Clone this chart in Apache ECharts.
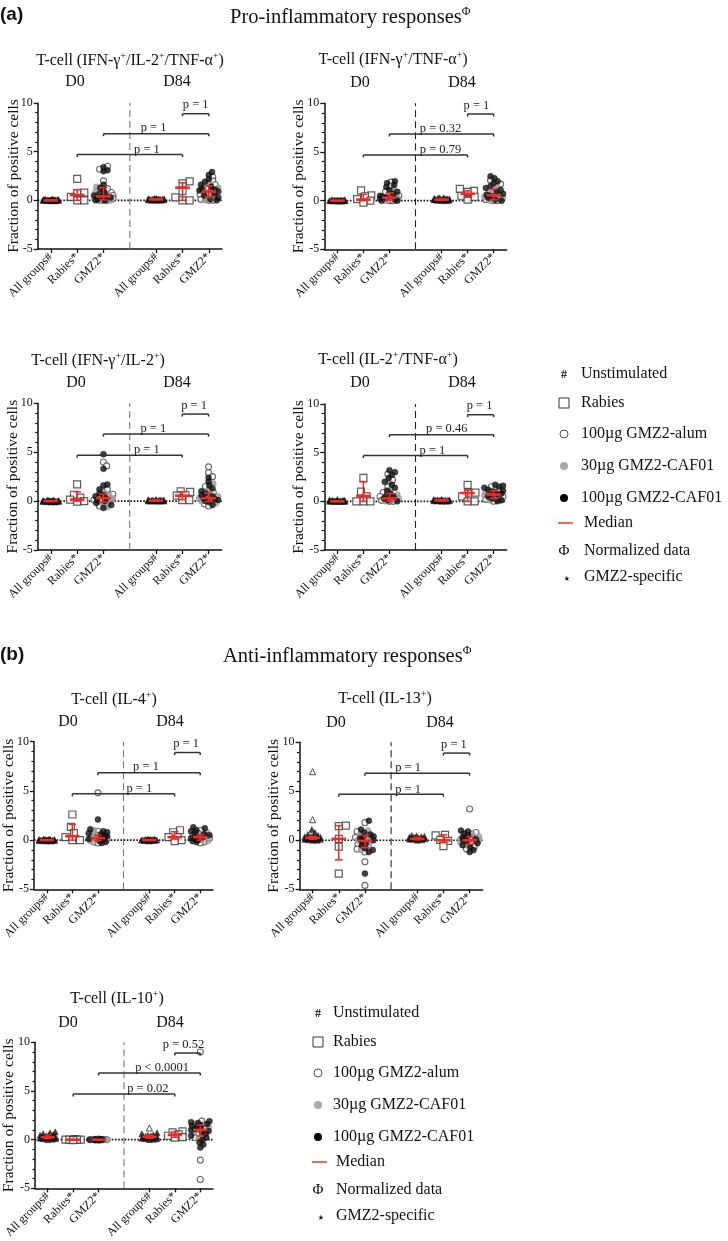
<!DOCTYPE html>
<html>
<head>
<meta charset="utf-8">
<script src="https://cdn.jsdelivr.net/npm/echarts@6/dist/echarts.min.js"></script>
<style>html,body{margin:0;padding:0;background:#fff}#c{width:728px;height:1241px}</style>
</head>
<body>
<div id="c"></div>
<script>
// ---------- tick labels / categories ----------
const xCategories = ['All groups#', 'Rabies*', 'GMZ2*', 'All groups#', 'Rabies*', 'GMZ2*'];
const xPositions = [1, 2, 3, 5, 6, 7];
const panelTitles = [
  'T-cell (IFN-γ^+/IL-2^+/TNF-α^+)', 'T-cell (IFN-γ^+/TNF-α^+)',
  'T-cell (IFN-γ^+/IL-2^+)', 'T-cell (IL-2^+/TNF-α^+)',
  'T-cell (IL-4^+)', 'T-cell (IL-13^+)', 'T-cell (IL-10^+)'
];
const legendLabels = ['Unstimulated', 'Rabies', '100µg GMZ2-alum', '30µg GMZ2-CAF01', '100µg GMZ2-CAF01', 'Median', 'Normalized data', 'GMZ2-specific'];
// significance bars (shared structure): from group, to group, height
const sigFrom = [6, 3, 2];
const sigTo = [7, 7, 6];
const sigY = [8.9, 6.85, 4.7];

// ---------- Panel 1: IFN-g/IL-2/TNF-a ----------
const p1_d0_all = [0, 0, 0, 0.05, -0.05, 0, 0.1, 0, 0, 0.05, 0, -0.05, 0.1, 0, 0, 0.05, 0, 0, 0.1, 0.15, 0, 0.05];
const p1_d0_rab = [2.2, 0.8, 0.75, 0.35, 0, 0];
const p1_d0_alum = [3.5, 3.2, 2.0, 1.2, 0.8, 0.5, 0.3, 0.1, 0, 0, 0, 0.2];
const p1_d0_caf30 = [1.4, 0.9, 0.6, 0.4, 0.2, 0, 0.1, 0.3];
const p1_d0_caf100 = [3.4, 3.1, 3.0, 1.6, 1.3, 1.0, 0.7, 0.5, 0.3, 0.2, 0.1, 0, 0, 0.4, 0.6];
const p1_d84_all = [0.1, 0.05, 0.15, 0.1, 0, 0.2, 0.1, 0.05, 0.1, 0.15, 0, 0.1, 0.2, 0.05, 0.1, 0.1, 0.15, 0];
const p1_d84_rab = [1.95, 1.75, 0.95, 0.3, 0, 0];
const p1_d84_alum = [2.4, 2.0, 1.6, 1.2, 0.9, 0.6, 0.3, 0, 0, 0.1];
const p1_d84_caf30 = [1.8, 1.3, 1.0, 0.8, 0.5, 0.2, 0, 1.5];
const p1_d84_caf100 = [2.9, 2.6, 2.2, 1.9, 1.6, 1.4, 1.2, 1.0, 0.9, 0.7, 0.5, 0.3, 0.1, 0, 1.1];
const p1_med = [0, 0.55, 0.4, 0.1, 1.3, 0.9];
const p1_q1 = [0, 0, 0.05, 0.05, 0, 0.3];
const p1_q3 = [0, 1.1, 1.3, 0.15, 1.8, 1.5];
const p1_p = ['p = 1', 'p = 1', 'p = 1'];

// ---------- Panel 2: IFN-g/TNF-a ----------
const p2_d0_all = [0, 0, 0.05, 0, -0.05, 0, 0.05, 0, 0, 0.1, 0, -0.05, 0, 0.05, 0, 0, 0.05, 0, 0, 0.1];
const p2_d0_rab = [1.05, 0.55, 0.45, 0.15, 0, -0.2];
const p2_d0_alum = [1.9, 1.5, 0.9, 0.5, 0.3, 0.1, 0, 0, 0.2];
const p2_d0_caf30 = [1.2, 0.7, 0.4, 0.2, 0, 0.1, 0.3];
const p2_d0_caf100 = [2.0, 1.8, 1.6, 1.4, 1.1, 0.9, 0.7, 0.5, 0.3, 0.2, 0.1, 0, 0, 0.4];
const p2_d84_all = [0.1, 0.2, 0.15, 0.05, 0.3, 0.1, 0.2, 0, 0.1, 0.25, 0.15, 0.05, 0.1, 0.2, 0.1, 0.3, 0, 0.15];
const p2_d84_rab = [1.2, 1.0, 0.9, 0.5, 0.4, 0.1];
const p2_d84_alum = [2.1, 1.7, 1.2, 0.8, 0.5, 0.2, 0, 0, 0.1];
const p2_d84_caf30 = [1.5, 1.0, 0.6, 0.4, 0.2, 0, 0.3];
const p2_d84_caf100 = [2.5, 2.3, 2.0, 1.8, 1.5, 1.3, 1.1, 0.9, 0.7, 0.5, 0.3, 0.1, 0, 0.6];
const p2_med = [0, 0.1, 0.3, 0.1, 0.7, 0.55];
const p2_q1 = [0, 0, 0.05, 0.05, 0.35, 0.1];
const p2_q3 = [0, 0.65, 0.8, 0.2, 1.0, 1.2];
const p2_p = ['p = 1', 'p = 0.32', 'p = 0.79'];

// ---------- Panel 3: IFN-g/IL-2 ----------
const p3_d0_all = [0, -0.1, 0.05, 0, 0.1, -0.05, 0, 0, 0.05, -0.1, 0, 0.1, 0, -0.05, 0, 0.05, 0, 0, -0.05, 0.05];
const p3_d0_rab = [1.7, 0.65, 0.35, 0.15, 0, -0.05];
const p3_d0_alum = [4.0, 3.6, 1.2, 0.7, 0.4, 0.1, -0.2, -0.5, 0.2, 0];
const p3_d0_caf30 = [1.0, 0.6, 0.3, 0, -0.3, -0.6, 0.1];
const p3_d0_caf100 = [4.8, 3.3, 1.7, 1.6, 1.2, 0.8, 0.5, 0.3, 0.1, 0, -0.2, -0.4, -0.7, 0.6];
const p3_d84_all = [0, 0.05, 0.1, 0, 0.15, 0.05, 0, 0.1, 0.05, 0, 0.1, 0.05, 0.15, 0, 0.05, 0.1, 0];
const p3_d84_rab = [1.0, 0.95, 0.6, 0.55, 0.1, 0.1];
const p3_d84_alum = [3.5, 2.9, 2.5, 1.5, 0.9, 0.4, 0, -0.3, -0.5, 0.2];
const p3_d84_caf30 = [1.8, 1.2, 0.7, 0.3, 0, -0.2, 0.5];
const p3_d84_caf100 = [2.4, 2.0, 1.6, 1.3, 1.0, 0.8, 0.5, 0.3, 0.1, 0, -0.1, -0.4, 0.2, 0.6];
const p3_med = [0, 0.15, 0.3, 0.05, 0.55, 0.3];
const p3_q1 = [0, 0, -0.1, 0, 0.15, -0.05];
const p3_q3 = [0, 0.95, 0.7, 0.1, 0.95, 0.8];
const p3_p = ['p = 1', 'p = 1', 'p = 1'];

// ---------- Panel 4: IL-2/TNF-a ----------
const p4_d0_all = [0, 0.05, 0, 0.1, 0, 0.2, 0.05, 0, 0.1, 0, 0.05, 0.15, 0, 0, 0.05, 0.1, 0, 0.05];
const p4_d0_rab = [2.4, 1.0, 0.5, 0, 0, 0];
const p4_d0_alum = [2.8, 2.2, 1.5, 0.9, 0.5, 0.2, 0, 0, 0.1];
const p4_d0_caf30 = [2.0, 1.2, 0.7, 0.3, 0.1, 0, 0.4];
const p4_d0_caf100 = [3.2, 3.0, 2.7, 2.4, 2.0, 1.7, 1.4, 1.1, 0.8, 0.5, 0.3, 0.1, 0, 0.6];
const p4_d84_all = [0.1, 0.05, 0.15, 0.1, 0, 0.2, 0.1, 0.05, 0.1, 0.15, 0, 0.1, 0.2, 0.05, 0.1, 0.1];
const p4_d84_rab = [1.7, 0.9, 0.9, 0.5, 0, 0];
const p4_d84_alum = [1.5, 1.1, 0.8, 0.5, 0.2, 0, 0.3];
const p4_d84_caf30 = [1.3, 0.9, 0.6, 0.4, 0.1, 0.7];
const p4_d84_caf100 = [1.7, 1.6, 1.5, 1.4, 1.2, 1.0, 0.9, 0.8, 0.7, 0.5, 0.3, 0.1, 0, 1.1];
const p4_med = [0, 0.55, 0.3, 0.1, 0.85, 0.7];
const p4_q1 = [0, 0, 0, 0.05, 0, 0.3];
const p4_q3 = [0, 2.0, 0.8, 0.15, 1.15, 1.1];
const p4_p = ['p = 1', 'p = 0.46', 'p = 1'];

// ---------- Panel 5: IL-4 ----------
const p5_d0_all = [0, -0.1, 0.05, 0, 0.1, -0.05, 0, 0, 0.05, -0.1, 0, 0.1, 0, -0.05, 0, 0.05, 0, 0, -0.05, 0.05];
const p5_d0_rab = [2.6, 1.35, 0.7, 0.3, 0, 0];
const p5_d0_alum = [4.8, 0.9, 0.5, 0.2, 0, -0.2, -0.3, 0.1];
const p5_d0_caf30 = [1.0, 0.6, 0.3, 0.1, -0.1, 0.4];
const p5_d0_caf100 = [2.1, 1.1, 0.9, 0.8, 0.6, 0.5, 0.4, 0.3, 0.2, 0.1, 0, -0.1, -0.2, -0.3, 0.7];
const p5_d84_all = [0, -0.05, 0.05, 0, 0.1, 0, -0.1, 0.05, 0, 0, 0.05, -0.05, 0, 0.1, 0, 0.05, 0];
const p5_d84_rab = [1.0, 0.8, 0.3, 0.3, 0, -0.1];
const p5_d84_alum = [1.0, 0.7, 0.4, 0.1, -0.2, -0.3, 0.2];
const p5_d84_caf30 = [0.8, 0.5, 0.3, 0, -0.1, 0.6];
const p5_d84_caf100 = [1.3, 1.2, 1.0, 0.9, 0.7, 0.5, 0.4, 0.3, 0.2, 0.1, 0, -0.1, -0.2, 0.6];
const p5_med = [0, 0.4, 0.2, 0, 0.3, 0.3];
const p5_q1 = [0, 0, -0.05, 0, 0.1, 0];
const p5_q3 = [0, 1.6, 0.5, 0, 0.85, 0.55];
const p5_p = ['p = 1', 'p = 1', 'p = 1'];

// ---------- Panel 6: IL-13 ----------
const p6_d0_all = [1.1, 0.8, 0.6, 0.5, 0.4, 0.35, 0.3, 0.25, 0.2, 0.2, 0.15, 0.1, 0.1, 0.05, 0, 0, 0.3, 0.4, 0.2, 0.1];
const p6_d0_allOpen = [7.0, 2.1];
const p6_d0_rab = [1.5, 1.45, 0.15, -0.65, -3.4];
const p6_d0_alum = [1.8, 0.9, 0.5, 0.1, -0.4, -0.9, -1.2, -2.2, -4.6, 0.3];
const p6_d0_caf30 = [1.0, 0.6, 0.2, -0.2, -0.6, -1.0, 0];
const p6_d0_caf100 = [2.0, 1.1, 0.8, 0.6, 0.4, 0.2, 0, -0.1, -0.3, -0.5, -0.8, -1.0, -1.2, -3.4, 0.3];
const p6_d84_all = [0.5, 0.45, 0.4, 0.35, 0.3, 0.25, 0.2, 0.2, 0.15, 0.1, 0.1, 0.05, 0, 0.3, 0.2, 0.15];
const p6_d84_rab = [0.55, 0.5, 0.05, -0.05, -0.6];
const p6_d84_alum = [3.2, 0.8, 0.3, 0, -0.3, -0.6, -0.9, 0.1];
const p6_d84_caf30 = [0.7, 0.4, 0.1, -0.2, -0.5, 0];
const p6_d84_caf100 = [1.0, 0.9, 0.7, 0.5, 0.3, 0.2, 0.1, 0, -0.1, -0.3, -0.5, -0.7, -1.0, -1.2];
const p6_med = [0.25, 0.15, -0.05, 0.15, 0.0, 0.0];
const p6_q1 = [0.1, -2.0, -0.75, 0.05, -0.2, -0.4];
const p6_q3 = [0.4, 1.5, 0.5, 0.3, 0.55, 0.35];
const p6_p = ['p = 1', 'p = 1', 'p = 1'];

// ---------- Panel 7: IL-10 ----------
const p7_d0_all = [0.8, 0.7, 0.6, 0.5, 0.45, 0.4, 0.35, 0.3, 0.3, 0.25, 0.2, 0.2, 0.15, 0.1, 0.1, 0.05, 0, 0.3, 0.2, 0.4];
const p7_d0_rab = [0.05, 0, 0, 0, 0, -0.05];
const p7_d0_alum = [0.05, 0, 0, 0, -0.05, 0];
const p7_d0_caf30 = [0, 0, 0.05, 0, -0.05];
const p7_d0_caf100 = [0.05, 0, 0, 0, 0, -0.05, 0, 0.05, 0];
const p7_d84_all = [0.7, 0.6, 0.5, 0.45, 0.4, 0.35, 0.3, 0.3, 0.25, 0.2, 0.2, 0.15, 0.1, 0.1, 0.05, 0, 0.3];
const p7_d84_allOpen = [1.2];
const p7_d84_rab = [0.85, 0.75, 0.55, 0.4, 0.25, 0.2];
const p7_d84_alum = [9.0, 1.9, 1.5, 1.1, 0.6, 0.2, -2.1, -4.1];
const p7_d84_caf30 = [1.6, 1.3, 1.0, 0.7, 0.4, 0.1];
const p7_d84_caf100 = [1.9, 1.8, 1.7, 1.6, 1.5, 1.4, 1.3, 1.2, 1.1, 1.0, 0.9, 0.8, 0.6, 0.4, 0.2, 0, -0.3, -0.5, -0.8];
const p7_med = [0.25, 0, 0, 0.3, 0.5, 1.0];
const p7_q1 = [0.1, 0, 0, 0.15, 0.25, 0.4];
const p7_q3 = [0.5, 0, 0, 0.45, 0.8, 1.5];
const p7_p = ['p = 0.52', 'p < 0.0001', 'p = 0.02'];

// ---------- assemble panels ----------
const panelData = [
  {all: [p1_d0_all, p1_d84_all], allOpen: [[], []], rab: [p1_d0_rab, p1_d84_rab], alum: [p1_d0_alum, p1_d84_alum], caf30: [p1_d0_caf30, p1_d84_caf30], caf100: [p1_d0_caf100, p1_d84_caf100], med: p1_med, q1: p1_q1, q3: p1_q3, p: p1_p},
  {all: [p2_d0_all, p2_d84_all], allOpen: [[], []], rab: [p2_d0_rab, p2_d84_rab], alum: [p2_d0_alum, p2_d84_alum], caf30: [p2_d0_caf30, p2_d84_caf30], caf100: [p2_d0_caf100, p2_d84_caf100], med: p2_med, q1: p2_q1, q3: p2_q3, p: p2_p},
  {all: [p3_d0_all, p3_d84_all], allOpen: [[], []], rab: [p3_d0_rab, p3_d84_rab], alum: [p3_d0_alum, p3_d84_alum], caf30: [p3_d0_caf30, p3_d84_caf30], caf100: [p3_d0_caf100, p3_d84_caf100], med: p3_med, q1: p3_q1, q3: p3_q3, p: p3_p},
  {all: [p4_d0_all, p4_d84_all], allOpen: [[], []], rab: [p4_d0_rab, p4_d84_rab], alum: [p4_d0_alum, p4_d84_alum], caf30: [p4_d0_caf30, p4_d84_caf30], caf100: [p4_d0_caf100, p4_d84_caf100], med: p4_med, q1: p4_q1, q3: p4_q3, p: p4_p},
  {all: [p5_d0_all, p5_d84_all], allOpen: [[], []], rab: [p5_d0_rab, p5_d84_rab], alum: [p5_d0_alum, p5_d84_alum], caf30: [p5_d0_caf30, p5_d84_caf30], caf100: [p5_d0_caf100, p5_d84_caf100], med: p5_med, q1: p5_q1, q3: p5_q3, p: p5_p},
  {all: [p6_d0_all, p6_d84_all], allOpen: [p6_d0_allOpen, []], rab: [p6_d0_rab, p6_d84_rab], alum: [p6_d0_alum, p6_d84_alum], caf30: [p6_d0_caf30, p6_d84_caf30], caf100: [p6_d0_caf100, p6_d84_caf100], med: p6_med, q1: p6_q1, q3: p6_q3, p: p6_p},
  {all: [p7_d0_all, p7_d84_all], allOpen: [[], p7_d84_allOpen], rab: [p7_d0_rab, p7_d84_rab], alum: [p7_d0_alum, p7_d84_alum], caf30: [p7_d0_caf30, p7_d84_caf30], caf100: [p7_d0_caf100, p7_d84_caf100], med: p7_med, q1: p7_q1, q3: p7_q3, p: p7_p}
];

// ---------- layout (pixels) ----------
const layout = [
  {left: 37.7, top: 103, width: 184.3, height: 146, tx: 130, ty: 61, d0: 75, d84: 177, dy: 82, pX: [6.5, 4.9, 4.65], sep: '#777'},
  {left: 324.3, top: 103.3, width: 182.4, height: 146, tx: 393, ty: 60, d0: 360, d84: 462, dy: 83, pX: [6.34, 4.96, 4.96], sep: '#222'},
  {left: 37.7, top: 403.3, width: 184, height: 146.7, tx: 98, ty: 361, d0: 76, d84: 177, dy: 383, pX: [6.45, 4.9, 4.65], sep: '#777'},
  {left: 324.3, top: 404, width: 182.4, height: 146, tx: 388, ty: 360, d0: 360, d84: 462, dy: 383, pX: [6.46, 5.2, 4.65], sep: '#222'},
  {left: 31.7, top: 741.7, width: 181.3, height: 147.6, tx: 114, ty: 700, d0: 68, d84: 170, dy: 722, pX: [6.45, 4.88, 4.62], sep: '#777'},
  {left: 299.5, top: 742.3, width: 183.2, height: 147, tx: 385, ty: 699, d0: 336, d84: 440, dy: 723, pX: [6.4, 4.65, 4.65], sep: '#222'},
  {left: 32.3, top: 1042.3, width: 180.7, height: 147, tx: 117, ty: 999, d0: 68, d84: 170, dy: 1023, pX: [6.34, 5.5, 4.94], sep: '#777'}
];
const nameGaps = [16, 17.5, 16.5, 17.5, 17, 18, 18];
const pLabelLift = [8.5, 5.5, 5];

const FONT = 'Liberation Serif';
const RED = '#ee2a22';

// deterministic beeswarm layout (horizontal spreading of overlapping points)
function swarm(vals, cx, ppx, ppy, diam, maxOff) {
  const idx = vals.map((v, i) => i).sort((a, b) => vals[a] - vals[b]);
  const step = 0.03, n = Math.round(maxOff / step);
  const cands = [0];
  for (let k = 1; k <= n; k++) cands.push(k * step, -k * step);
  const placed = [], out = new Array(vals.length);
  for (const i of idx) {
    let best = 0, bestD = -1;
    for (const o of cands) {
      let minD = Infinity;
      for (const p of placed) {
        const dx = (o - p.o) * ppx, dy = (vals[i] - p.v) * ppy;
        const d = Math.sqrt(dx * dx + dy * dy);
        if (d < minD) minD = d;
      }
      if (minD >= diam) { best = o; bestD = Infinity; break; }
      if (minD > bestD + 0.01) { bestD = minD; best = o; }
    }
    placed.push({o: best, v: vals[i]});
    out[i] = [cx + best, vals[i]];
  }
  return out;
}
function groupLayout(lists, cx, ppx, ppy, diam, maxOff) {
  const vals = [].concat(...lists);
  const pts = swarm(vals, cx, ppx, ppy, diam, maxOff);
  const res = []; let k = 0;
  lists.forEach(l => { res.push(pts.slice(k, k + l.length)); k += l.length; });
  return res;
}
function richTitle(s) {
  return s.split('^+').map((seg, i, arr) => '{n|' + seg + '}' + (i < arr.length - 1 ? '{s|+}' : '')).join('');
}

const grids = [], xAxes = [], yAxes = [], series = [], graphics = [];
const richStyle = {
  n: {fontFamily: FONT, fontSize: 16, lineHeight: 20, fill: '#111'},
  s: {fontFamily: FONT, fontSize: 10, lineHeight: 11, verticalAlign: 'top', fill: '#111'}
};

panelData.forEach((P, i) => {
  const L = layout[i];
  grids.push({left: L.left, top: L.top, width: L.width, height: L.height});
  xAxes.push({
    type: 'value', gridIndex: i, min: 0.5, max: 7.5, position: 'bottom',
    axisLine: {show: true, onZero: false, lineStyle: {color: '#111', width: 1.5}},
    axisTick: {show: true, customValues: xPositions, length: 4, lineStyle: {color: '#111', width: 1.3}},
    axisLabel: {show: true, customValues: xPositions, rotate: 45, margin: 6, fontFamily: FONT, fontSize: 12, color: '#111',
      formatter: v => xCategories[xPositions.indexOf(Math.round(v))] || ''},
    splitLine: {show: false}
  });
  yAxes.push({
    type: 'value', gridIndex: i, min: -5, max: 10, interval: 5,
    axisLine: {show: true, onZero: false, lineStyle: {color: '#111', width: 1.5}},
    axisTick: {show: true, length: 4, lineStyle: {color: '#111', width: 1.3}},
    minorTick: {show: true, splitNumber: 5, length: 2.5, lineStyle: {color: '#111', width: 1.2}},
    axisLabel: {margin: 5, fontFamily: FONT, fontSize: 12, color: '#111'},
    splitLine: {show: false},
    name: 'Fraction of positive cells', nameLocation: 'middle', nameGap: nameGaps[i], nameMoveOverlap: false,
    nameTextStyle: {fontFamily: FONT, fontSize: 15.5, color: '#111'}
  });
  const ppx = L.width / 7, ppy = L.height / 15;
  const base = {xAxisIndex: i, yAxisIndex: i, silent: true, animation: false};
  series.push({...base, type: 'line', data: [[0.5, 0], [7.5, 0]], symbol: 'none', z: 1,
    lineStyle: {color: '#111', width: 1.6, type: [1.6, 1.6]}});
  series.push({...base, type: 'line', data: [[4, -5], [4, 10]], symbol: 'none', z: 1,
    lineStyle: {color: L.sep, width: 1.1, type: [7, 4]}});

  const allF = [], allO = [], rab = [], alum = [], c30 = [], c100 = [];
  [0, 1].forEach(d => {
    const off = d * 4;
    const ga = groupLayout([P.all[d], P.allOpen[d]], 1 + off, ppx, ppy, 4, 0.3);
    allF.push(...ga[0]); allO.push(...ga[1]);
    const gr = groupLayout([P.rab[d]], 2 + off, ppx, ppy, 7, 0.3);
    rab.push(...gr[0]);
    const gg = groupLayout([P.alum[d], P.caf30[d], P.caf100[d]], 3 + off, ppx, ppy, 3.8, 0.36);
    alum.push(...gg[0]); c30.push(...gg[1]); c100.push(...gg[2]);
  });
  series.push({...base, type: 'scatter', data: allF, symbol: 'triangle', symbolSize: 6, z: 2,
    itemStyle: {color: '#111', borderColor: '#111', borderWidth: 0.5}});
  series.push({...base, type: 'scatter', data: allO, symbol: 'triangle', symbolSize: 6, z: 2,
    itemStyle: {color: '#fff', borderColor: '#222', borderWidth: 1}});
  series.push({...base, type: 'scatter', data: rab, symbol: 'rect', symbolSize: 7, z: 2,
    itemStyle: {color: '#fff', borderColor: '#333', borderWidth: 1.2}});
  series.push({...base, type: 'scatter', data: alum, symbol: 'circle', symbolSize: 6, z: 2,
    itemStyle: {color: '#fff', borderColor: '#444', borderWidth: 1.1}});
  series.push({...base, type: 'scatter', data: c30, symbol: 'circle', symbolSize: 6, z: 2,
    itemStyle: {color: '#9e9e9e', borderColor: '#8a8a8a', borderWidth: 0.5}});
  series.push({...base, type: 'scatter', data: c100, symbol: 'circle', symbolSize: 6, z: 2,
    itemStyle: {color: '#111', borderColor: '#111', borderWidth: 0.5}});

  // median + interquartile range
  const medData = xPositions.map((x, k) => [x, P.med[k], P.q1[k], P.q3[k]]);
  series.push({...base, type: 'custom', z: 5, data: medData, encode: {x: 0, y: [1, 2, 3]},
    renderItem: (params, api) => {
      const x = api.value(0), m = api.value(1), lo = api.value(2), hi = api.value(3);
      const pm = api.coord([x, m]), pl = api.coord([x, lo]), ph = api.coord([x, hi]);
      const hw = api.size([0.28, 0])[0], cw = api.size([0.15, 0])[0];
      const st = {stroke: RED, lineWidth: 1.5};
      return {type: 'group', children: [
        {type: 'line', shape: {x1: pm[0], y1: pl[1], x2: pm[0], y2: ph[1]}, style: st},
        {type: 'line', shape: {x1: pm[0] - cw, y1: pl[1], x2: pm[0] + cw, y2: pl[1]}, style: st},
        {type: 'line', shape: {x1: pm[0] - cw, y1: ph[1], x2: pm[0] + cw, y2: ph[1]}, style: st},
        {type: 'line', shape: {x1: pm[0] - hw, y1: pm[1], x2: pm[0] + hw, y2: pm[1]}, style: {stroke: RED, lineWidth: 2.6}}
      ]};
    }});

  // significance bars
  const sigData = sigFrom.map((f, k) => [f, sigTo[k], sigY[k], L.pX[k]]);
  series.push({...base, type: 'custom', z: 4, data: sigData, encode: {x: [0, 1, 3], y: 2},
    renderItem: (params, api) => {
      const k = params.dataIndex;
      const a = api.coord([api.value(0), api.value(2)]), b = api.coord([api.value(1), api.value(2)]);
      const t = api.coord([api.value(3), api.value(2)]);
      const st = {stroke: '#333', lineWidth: 1.5};
      return {type: 'group', children: [
        {type: 'line', shape: {x1: a[0], y1: a[1], x2: b[0], y2: b[1]}, style: st},
        {type: 'line', shape: {x1: a[0], y1: a[1], x2: a[0], y2: a[1] + 2.5}, style: st},
        {type: 'line', shape: {x1: b[0], y1: b[1], x2: b[0], y2: b[1] + 2.5}, style: st},
        {type: 'text', x: t[0], y: t[1] - pLabelLift[k], style: {text: P.p[k], fill: '#222',
          font: '12.5px ' + FONT, align: 'center', verticalAlign: 'middle'}}
      ]};
    }});

  // panel titles
  graphics.push({type: 'text', x: L.tx, y: L.ty, silent: true,
    style: {text: richTitle(panelTitles[i]), rich: richStyle, align: 'center', verticalAlign: 'middle'}});
  graphics.push({type: 'text', x: L.d0, y: L.dy, silent: true,
    style: {text: 'D0', font: '16px ' + FONT, fill: '#111', align: 'center', verticalAlign: 'middle'}});
  graphics.push({type: 'text', x: L.d84, y: L.dy, silent: true,
    style: {text: 'D84', font: '16px ' + FONT, fill: '#111', align: 'center', verticalAlign: 'middle'}});
});

// section headings
const mainRich = {
  n: {fontFamily: FONT, fontSize: 20.5, lineHeight: 24, fill: '#111'},
  s: {fontFamily: FONT, fontSize: 12, lineHeight: 12, verticalAlign: 'top', fill: '#111'}
};
graphics.push({type: 'text', x: 0, y: 15, style: {text: '(a)', font: 'bold 19px Liberation Sans', fill: '#111', verticalAlign: 'middle'}});
graphics.push({type: 'text', x: 230, y: 18, style: {text: '{n|Pro-inflammatory responses}{s|Φ}', rich: mainRich, verticalAlign: 'middle'}});
graphics.push({type: 'text', x: 0, y: 655, style: {text: '(b)', font: 'bold 19px Liberation Sans', fill: '#111', verticalAlign: 'middle'}});
graphics.push({type: 'text', x: 223, y: 657, style: {text: '{n|Anti-inflammatory responses}{s|Φ}', rich: mainRich, verticalAlign: 'middle'}});

// legends
const legendDY = [0, 29, 60, 92, 124, 149, 177, 203];
function addLegend(sx, tx, y0) {
  legendLabels.forEach((lab, k) => {
    const y = y0 + legendDY[k];
    let sym;
    if (k === 0) sym = {type: 'text', x: sx, y: y + 1, style: {text: '#', font: 'bold 12px ' + FONT, fill: '#111', align: 'center', verticalAlign: 'middle'}};
    else if (k === 1) sym = {type: 'rect', shape: {x: sx - 5, y: y - 5, width: 10, height: 10}, style: {fill: '#fff', stroke: '#333', lineWidth: 1}};
    else if (k === 2) sym = {type: 'circle', shape: {cx: sx, cy: y, r: 4}, style: {fill: '#fff', stroke: '#555', lineWidth: 1}};
    else if (k === 3) sym = {type: 'circle', shape: {cx: sx, cy: y, r: 4}, style: {fill: '#a8a8a8'}};
    else if (k === 4) sym = {type: 'circle', shape: {cx: sx, cy: y, r: 4}, style: {fill: '#000'}};
    else if (k === 5) sym = {type: 'line', shape: {x1: sx - 6, y1: y, x2: sx + 9, y2: y}, style: {stroke: '#f05a3c', lineWidth: 1.8}};
    else if (k === 6) sym = {type: 'text', x: sx, y: y, style: {text: 'Φ', font: '15px ' + FONT, fill: '#111', align: 'center', verticalAlign: 'middle'}};
    else sym = {type: 'text', x: sx + 3, y: y + 2, style: {text: '⋆', font: '14px DejaVu Sans', fill: '#111', align: 'center', verticalAlign: 'middle'}};
    graphics.push(sym);
    graphics.push({type: 'text', x: tx + (k >= 5 ? 3 : 0), y: y, style: {text: lab, font: '16px ' + FONT, fill: '#111', verticalAlign: 'middle'}});
  });
}
addLegend(564, 581, 374);
addLegend(318, 333, 1013);

const chart = echarts.init(document.getElementById('c'), null, {renderer: 'canvas'});
chart.setOption({
  animation: false,
  backgroundColor: '#fff',
  grid: grids, xAxis: xAxes, yAxis: yAxes, series: series,
  graphic: graphics
});
</script>
</body>
</html>
